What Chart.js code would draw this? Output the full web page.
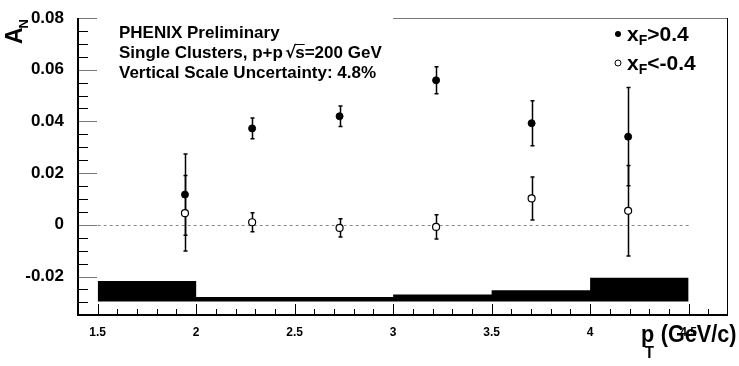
<!DOCTYPE html>
<html>
<head>
<meta charset="utf-8">
<script src="https://cdn.jsdelivr.net/npm/chart.js@4/dist/chart.umd.min.js"></script>
<style>
  html, body { margin: 0; padding: 0; background: #fff; }
  #wrap { width: 739px; height: 366px; }
</style>
</head>
<body>
<div id="wrap"><canvas id="anChart" width="739" height="366"></canvas></div>
<script>
// pT bin centres (GeV/c)
const ptValues = [1.943, 2.284, 2.728, 3.218, 3.703, 4.193];
// A_N for xF > 0.4 (filled) and xF < -0.4 (open)
const anForward = [0.0117, 0.0373, 0.0420, 0.0559, 0.0393, 0.0341];
const errForward = [0.0157, 0.0040, 0.0040, 0.0052, 0.0087, 0.0190];
const anBackward = [0.0045, 0.0010, -0.0012, -0.0008, 0.0102, 0.0054];
const errBackward = [0.0146, 0.0037, 0.0035, 0.0047, 0.0083, 0.0175];

// systematic boxes along the bottom
const sysEdges = [1.5, 2.0, 2.5, 3.0, 3.5, 4.0, 4.5];
const sysTop = [-0.0217, -0.0279, -0.0279, -0.0270, -0.0253, -0.0205];
const sysBase = -0.0297;

const xTicks = [1.5, 2, 2.5, 3, 3.5, 4, 4.5];
const yTicks = [-0.02, 0, 0.02, 0.04, 0.06, 0.08];

const FONT = '"Liberation Sans", Arial, Helvetica, sans-serif';
const font = size => 'bold ' + size + 'px ' + FONT;

const decorations = {
    id: 'decorations',
    beforeDatasetsDraw(chart) {
        const { ctx, scales: { x, y } } = chart;
        ctx.save();
        // dashed zero line
        const y0 = Math.round(y.getPixelForValue(0)) + 0.5;
        ctx.strokeStyle = '#888';
        ctx.lineWidth = 1;
        ctx.setLineDash([3, 3]);
        ctx.beginPath();
        ctx.moveTo(x.getPixelForValue(1.5), y0);
        ctx.lineTo(x.getPixelForValue(4.5), y0);
        ctx.stroke();
        ctx.setLineDash([]);

        // error bars
        ctx.strokeStyle = '#000';
        ctx.lineWidth = 1.5;
        const drawErrors = (vals, errs) => {
            vals.forEach((v, i) => {
                const px = Math.round(x.getPixelForValue(ptValues[i])) + 0.5;
                const top = y.getPixelForValue(v + errs[i]);
                const bot = y.getPixelForValue(v - errs[i]);
                ctx.beginPath();
                ctx.moveTo(px, top);
                ctx.lineTo(px, bot);
                ctx.moveTo(px - 2, top);
                ctx.lineTo(px + 2, top);
                ctx.moveTo(px - 2, bot);
                ctx.lineTo(px + 2, bot);
                ctx.stroke();
            });
        };
        drawErrors(anForward, errForward);
        drawErrors(anBackward, errBackward);
        ctx.restore();
    },
    afterDraw(chart) {
        const { ctx, chartArea: a, scales: { x, y } } = chart;
        ctx.save();

        // frame: gray top line (partly hidden by the text box), thin right line
        ctx.strokeStyle = '#777';
        ctx.lineWidth = 1;
        ctx.beginPath();
        ctx.moveTo(x.getPixelForValue(3.0), a.top + 0.5);
        ctx.lineTo(a.right, a.top + 0.5);
        ctx.stroke();
        ctx.strokeStyle = '#000';
        ctx.beginPath();
        ctx.moveTo(a.right - 0.5, a.top);
        ctx.lineTo(a.right - 0.5, a.bottom);
        ctx.stroke();

        // y ticks, inward
        for (let k = -6; k <= 16; k++) {
            const v = k * 0.005;
            const py = Math.round(y.getPixelForValue(v)) + 0.5;
            const major = k % 4 === 0;
            ctx.strokeStyle = major ? '#777' : '#000';
            ctx.beginPath();
            ctx.moveTo(a.left, py);
            ctx.lineTo(a.left + (major ? 19 : 10), py);
            ctx.stroke();
        }
        // x ticks, inward
        ctx.strokeStyle = '#000';
        for (let k = 15; k <= 46; k++) {
            const px = Math.round(x.getPixelForValue(k / 10)) + 0.5;
            const major = k % 5 === 0;
            ctx.beginPath();
            ctx.moveTo(px, a.bottom);
            ctx.lineTo(px, a.bottom - (major ? 10 : 5));
            ctx.stroke();
        }

        // thick axes
        ctx.lineWidth = 2;
        ctx.beginPath();
        ctx.moveTo(a.left, a.top);
        ctx.lineTo(a.left, a.bottom + 1);
        ctx.lineTo(a.right, a.bottom + 1);
        ctx.stroke();

        ctx.fillStyle = '#000';
        ctx.textBaseline = 'alphabetic';
        ctx.textAlign = 'left';

        // annotation
        ctx.font = font(17);
        ctx.fillText('PHENIX Preliminary', 119, 38);
        const pre = 'Single Clusters, p+p';
        ctx.fillText(pre, 119, 58);
        let xx = 119 + ctx.measureText(pre).width + 2;
        ctx.font = 'bold 17px "DejaVu Sans", ' + FONT;
        ctx.fillText('\u221A', xx, 58);
        xx += ctx.measureText('\u221A').width - 1;
        ctx.font = font(17);
        const sw = ctx.measureText('s').width;
        ctx.lineWidth = 1;
        ctx.beginPath();
        ctx.moveTo(xx, 44.5);
        ctx.lineTo(xx + sw, 44.5);
        ctx.stroke();
        ctx.fillText('s=200 GeV', xx, 58);
        ctx.fillText('Vertical Scale Uncertainty: 4.8%', 119, 78);

        // legend
        ctx.beginPath();
        ctx.arc(618, 34, 3, 0, Math.PI * 2);
        ctx.fill();
        ctx.beginPath();
        ctx.arc(618, 63, 3, 0, Math.PI * 2);
        ctx.fillStyle = '#fff';
        ctx.fill();
        ctx.lineWidth = 1;
        ctx.stroke();
        ctx.fillStyle = '#000';
        const legendRow = (rest, base) => {
            ctx.font = font(21);
            ctx.fillText('x', 627, base);
            let lx = 627 + ctx.measureText('x').width;
            ctx.font = font(14);
            ctx.fillText('F', lx, base + 4);
            lx += ctx.measureText('F').width;
            ctx.font = font(21);
            ctx.fillText(rest, lx, base);
        };
        legendRow('>0.4', 41);
        legendRow('<-0.4', 70);

        // y title A_N (rotated)
        ctx.save();
        ctx.translate(22, 44);
        ctx.rotate(-Math.PI / 2);
        ctx.font = font(23);
        ctx.fillText('A', 0, 0);
        const aw = ctx.measureText('A').width;
        ctx.font = font(13);
        ctx.fillText('N', aw - 1, 6);
        ctx.restore();

        // x title p_T (GeV/c)
        ctx.save();
        ctx.translate(641, 342);
        ctx.scale(0.94, 1);
        ctx.font = font(23);
        ctx.fillText('p', 0, 0);
        ctx.fillText('(GeV/c)', 21, 0);
        ctx.font = font(16);
        ctx.fillText('T', 4, 16);
        ctx.restore();

        ctx.restore();
    }
};

const ctx = document.getElementById('anChart').getContext('2d');
new Chart(ctx, {
    type: 'scatter',
    data: {
        datasets: [
            {
                type: 'line',
                label: 'systematics',
                data: sysEdges.map((e, i) => ({ x: e, y: sysTop[Math.min(i, sysTop.length - 1)] })),
                stepped: 'before',
                fill: { value: sysBase },
                backgroundColor: '#000',
                borderColor: '#000',
                borderWidth: 0,
                pointRadius: 0
            },
            {
                label: 'xF>0.4',
                data: ptValues.map((p, i) => ({ x: p, y: anForward[i] })),
                pointRadius: 3.5,
                backgroundColor: '#000',
                borderColor: '#000',
                borderWidth: 1
            },
            {
                label: 'xF<-0.4',
                data: ptValues.map((p, i) => ({ x: p, y: anBackward[i] })),
                pointRadius: 3.5,
                backgroundColor: '#fff',
                borderColor: '#000',
                borderWidth: 1.2
            }
        ]
    },
    options: {
        responsive: false,
        animation: false,
        devicePixelRatio: 1,
        layout: { padding: { top: 18, right: 11, left: 0, bottom: 0 } },
        plugins: { legend: { display: false }, tooltip: { enabled: false } },
        scales: {
            x: {
                type: 'linear',
                min: 1.4,
                max: 4.7,
                afterBuildTicks: s => { s.ticks = xTicks.map(v => ({ value: v })); },
                afterFit: s => { s.height = 52; },
                grid: { display: false },
                border: { display: false },
                ticks: {
                    color: '#000',
                    font: { family: FONT, size: 12, weight: 'bold' },
                    padding: 3,
                    maxRotation: 0,
                    autoSkip: false,
                    callback: v => String(v)
                }
            },
            y: {
                min: -0.0345,
                max: 0.08,
                afterBuildTicks: s => { s.ticks = yTicks.map(v => ({ value: v })); },
                afterFit: s => { s.width = 78; },
                grid: { display: false },
                border: { display: false },
                ticks: {
                    color: '#000',
                    font: { family: FONT, size: 17, weight: 'bold' },
                    padding: 6,
                    autoSkip: false,
                    callback: v => (Math.abs(v) < 1e-9 ? '0' : v.toFixed(2))
                }
            }
        }
    },
    plugins: [decorations]
});
</script>
</body>
</html>
